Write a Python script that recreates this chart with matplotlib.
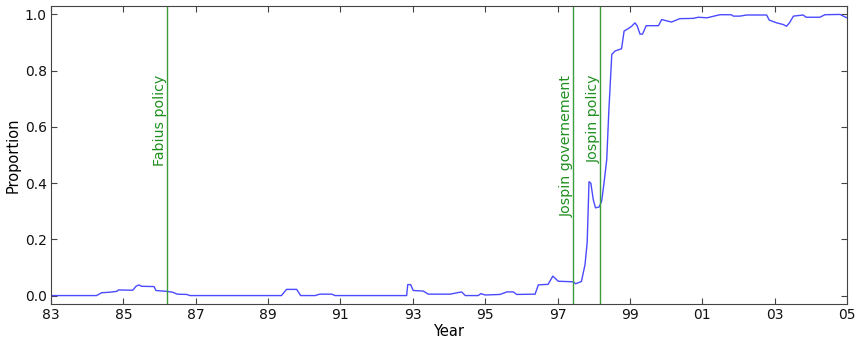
import matplotlib
matplotlib.use("Agg")
import matplotlib.pyplot as plt

# Data (decimal year, proportion)
years = [1983.0, 1984.26, 1984.4, 1984.63, 1984.82, 1984.86, 1985.26, 1985.35, 1985.43, 1985.5,
         1985.85, 1985.9, 1986.2, 1986.36, 1986.49, 1986.75, 1986.84, 1989.37, 1989.51, 1989.79,
         1989.9, 1990.3, 1990.43, 1990.76, 1990.85, 1992.83, 1992.86, 1992.94, 1993.01, 1993.29,
         1993.43, 1994.03, 1994.31, 1994.35, 1994.45, 1994.81, 1994.88, 1995.0, 1995.41, 1995.6,
         1995.78, 1995.87, 1996.38, 1996.47, 1996.74, 1996.87, 1997.02, 1997.43, 1997.5, 1997.66,
         1997.76, 1997.82, 1997.87, 1997.92, 1997.99, 1998.05, 1998.15, 1998.22, 1998.28, 1998.36,
         1998.42, 1998.5, 1998.59, 1998.77, 1998.84, 1998.96, 1999.05, 1999.14, 1999.2, 1999.28,
         1999.35, 1999.45, 1999.79, 1999.88, 2000.02, 2000.15, 2000.38, 2000.75, 2000.89, 2001.13,
         2001.49, 2001.8, 2001.86, 2002.04, 2002.23, 2002.78, 2002.85, 2003.06, 2003.24, 2003.33,
         2003.41, 2003.52, 2003.79, 2003.87, 2004.25, 2004.39, 2004.81, 2004.9, 2005.0]
proportion = [0.0, 0.0, 0.01, 0.012, 0.015, 0.02, 0.019, 0.033, 0.038, 0.033,
              0.032, 0.018, 0.015, 0.012, 0.005, 0.004, 0.0, 0.0, 0.022, 0.022,
              0.0, 0.0, 0.005, 0.005, 0.0, 0.0, 0.039, 0.039, 0.018, 0.016,
              0.005, 0.005, 0.012, 0.013, 0.0, 0.0, 0.007, 0.002, 0.004, 0.013,
              0.013, 0.004, 0.005, 0.038, 0.04, 0.069, 0.051, 0.049, 0.042, 0.05,
              0.11, 0.19, 0.405, 0.40, 0.34, 0.312, 0.315, 0.336, 0.395, 0.484,
              0.662, 0.858, 0.87, 0.878, 0.941, 0.95, 0.958, 0.97, 0.96, 0.93,
              0.93, 0.96, 0.96, 0.982, 0.977, 0.973, 0.985, 0.986, 0.99, 0.988,
              0.999, 0.999, 0.994, 0.994, 0.998, 0.998, 0.98, 0.97, 0.964, 0.958,
              0.97, 0.994, 0.998, 0.99, 0.99, 0.999, 1.0, 0.994, 0.988]

event_years = [1986.2, 1997.43, 1998.17]
event_labels = ["Fabius policy", "Jospin governement", "Jospin policy"]

xtick_years = list(range(1983, 2006, 2))
xtick_labels = ["83", "85", "87", "89", "91", "93", "95", "97", "99", "01", "03", "05"]
yticks = [0.0, 0.2, 0.4, 0.6, 0.8, 1.0]

plt.rcParams['font.family'] = ['DejaVu Sans']
fig = plt.figure(figsize=(8.57, 3.43), dpi=100)
ax = fig.add_axes([0.0595, 0.1137, 0.9288, 0.8688])

ax.plot(years, proportion, color='#4a4aff', lw=1.0)
for ey, lab in zip(event_years, event_labels):
    ax.axvline(ey, color='#3a9e3a', lw=1.0)
    ax.text(ey + 0.02, 0.785, lab, rotation=90, color='#1f8f1f', ha='right', va='top', fontsize=10.2)

ax.set_xlim(1983, 2005)
ax.set_ylim(-0.03, 1.03)
ax.set_xticks(xtick_years)
ax.set_xticklabels(xtick_labels)
ax.set_yticks(yticks)
ax.tick_params(direction='in', top=True, right=True, labelsize=10, length=4, pad=3,
               color='#444444', labelcolor='#111111')
for s in ax.spines.values():
    s.set_color('#444444')
ax.set_xlabel("Year", fontsize=10.5, labelpad=1)
ax.set_ylabel("Proportion", fontsize=10.5, labelpad=3)

fig.savefig("out.png", dpi=100)
